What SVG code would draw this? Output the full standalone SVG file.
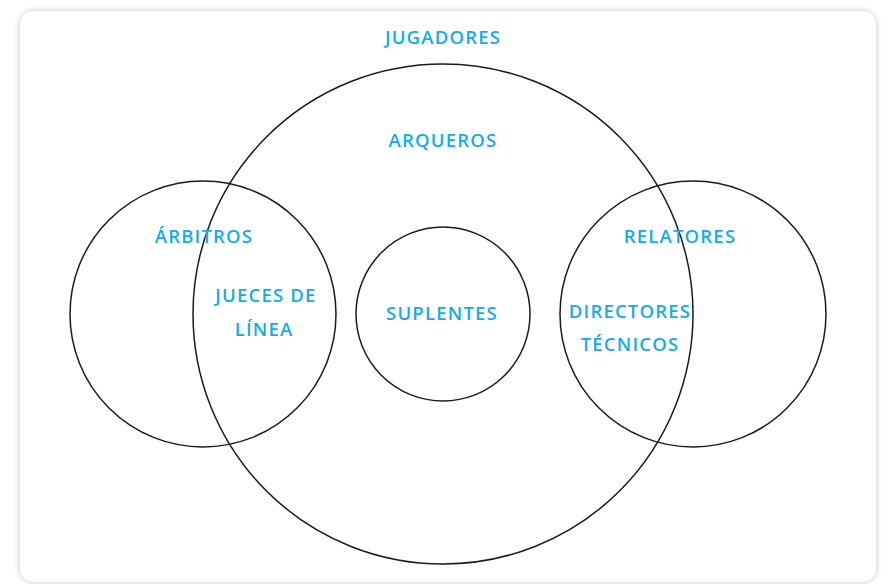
<svg xmlns="http://www.w3.org/2000/svg" width="883" height="584" viewBox="0 0 883 584">
<defs>
<filter id="sh" x="-5%" y="-5%" width="110%" height="110%">
<feGaussianBlur in="SourceAlpha" stdDeviation="3"/>
<feComponentTransfer><feFuncA type="linear" slope="0.25"/></feComponentTransfer>
<feMerge><feMergeNode/><feMergeNode in="SourceGraphic"/></feMerge>
</filter>
<style>
.c{fill:none;stroke:#1a1a1a;stroke-width:1.5}
.t{font-family:"Open Sans","Noto Sans",sans-serif;font-size:18.5px;fill:#12ade9;text-anchor:middle;letter-spacing:1.2px;font-weight:600}
</style>
</defs>
<rect width="883" height="584" fill="#ffffff"/>
<rect x="20" y="11" width="856" height="571" rx="14" fill="#ffffff" filter="url(#sh)"/>
<g id="jugadores">
<circle class="c" cx="443" cy="314" r="250"/>
<text class="t" x="443" y="44">JUGADORES</text>
</g>
<g id="arqueros">
<text class="t" x="443" y="147">ARQUEROS</text>
</g>
<g id="arbitros">
<circle class="c" cx="203" cy="314" r="133"/>
<text class="t" x="204" y="243">ÁRBITROS</text>
</g>
<g id="jueces">
<text class="t" x="266" y="302">JUECES DE</text>
<text class="t" x="264" y="336">LÍNEA</text>
</g>
<g id="suplentes">
<circle class="c" cx="443" cy="314" r="87"/>
<text class="t" x="442" y="320">SUPLENTES</text>
</g>
<g id="relatores">
<circle class="c" cx="693" cy="314" r="133"/>
<text class="t" x="680" y="243">RELATORES</text>
</g>
<g id="directores">
<text class="t" x="630" y="318">DIRECTORES</text>
<text class="t" x="630" y="351">TÉCNICOS</text>
</g>
<g id="connectors"></g>
</svg>
